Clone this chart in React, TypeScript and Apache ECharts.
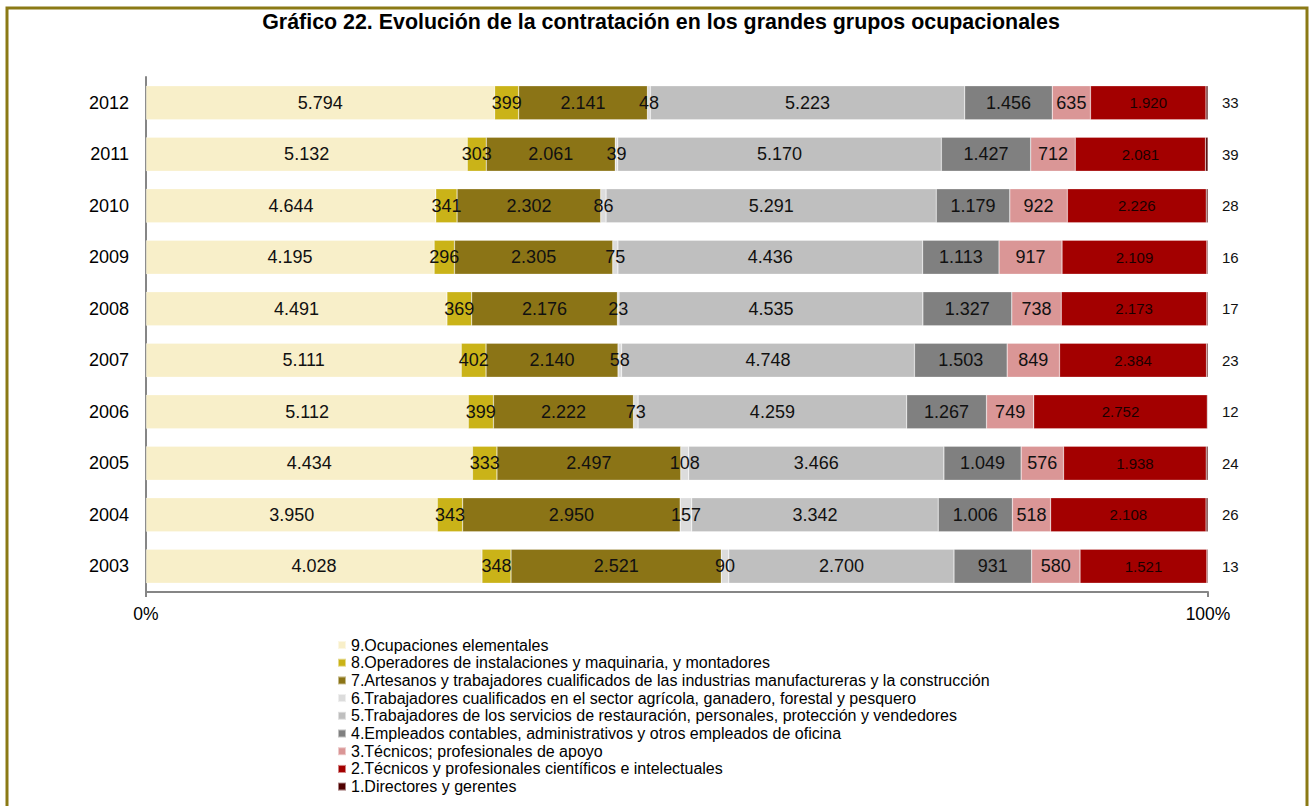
import React, { useEffect, useRef } from "react";
import * as echarts from "echarts";

const years = ["2012", "2011", "2010", "2009", "2008", "2007", "2006", "2005", "2004", "2003"];

const groupNames = [
  "9.Ocupaciones elementales",
  "8.Operadores de instalaciones y maquinaria, y montadores",
  "7.Artesanos y trabajadores cualificados de las industrias manufactureras y la construcción",
  "6.Trabajadores cualificados en el sector agrícola, ganadero, forestal y pesquero",
  "5.Trabajadores de los servicios de restauración, personales, protección y vendedores",
  "4.Empleados contables, administrativos y otros empleados de oficina",
  "3.Técnicos; profesionales de apoyo",
  "2.Técnicos y profesionales científicos e intelectuales",
  "1.Directores y gerentes",
];

const groupColors = ["#F8EFC9", "#CAB318", "#8B7416", "#DCDCDC", "#BFBFBF", "#808080", "#DA9696", "#A30000", "#4F0000"];

// values per group, in the order of years (2012 ... 2003)
const g9 = [5794, 5132, 4644, 4195, 4491, 5111, 5112, 4434, 3950, 4028];
const g8 = [399, 303, 341, 296, 369, 402, 399, 333, 343, 348];
const g7 = [2141, 2061, 2302, 2305, 2176, 2140, 2222, 2497, 2950, 2521];
const g6 = [48, 39, 86, 75, 23, 58, 73, 108, 157, 90];
const g5 = [5223, 5170, 5291, 4436, 4535, 4748, 4259, 3466, 3342, 2700];
const g4 = [1456, 1427, 1179, 1113, 1327, 1503, 1267, 1049, 1006, 931];
const g3 = [635, 712, 922, 917, 738, 849, 749, 576, 518, 580];
const g2 = [1920, 2081, 2226, 2109, 2173, 2384, 2752, 1938, 2108, 1521];
const g1 = [33, 39, 28, 16, 17, 23, 12, 24, 26, 13];

const xTicks = [0, 100];

const groups = [g9, g8, g7, g6, g5, g4, g3, g2, g1];

const FONT = "'Liberation Sans', Arial, sans-serif";

function fmt(n: number): string {
  return String(n).replace(/\B(?=(\d{3})+(?!\d))/g, ".");
}

export default function App() {
  const ref = useRef<HTMLDivElement>(null);
  useEffect(() => {
    if (!ref.current) return;
    const chart = echarts.init(ref.current, null, { renderer: "svg" });
    const totals = years.map((_, i) => groups.reduce((s, g) => s + g[i], 0));
    const series = groups.map((g, gi) => {
      const isLast = gi === groups.length - 1;
      const isRed = gi === 7;
      return {
        name: groupNames[gi],
        type: "bar",
        stack: "total",
        barCategoryGap: "34%",
        itemStyle: { color: groupColors[gi], borderColor: "rgba(255,255,255,0.5)", borderWidth: 0.5 },
        data: g.map((v, i) => ({ value: (v / totals[i]) * 100, raw: v })),
        label: {
          show: true,
          position: isLast ? "right" : "inside",
          distance: isLast ? 14 : 5,
          fontFamily: FONT,
          fontSize: isLast ? 15 : isRed ? 15 : 18,
          color: isRed ? "#1a0000" : "#111",
          formatter: (p: any) => fmt(p.data.raw),
        },
      };
    });
    chart.setOption({
      animation: false,
      textStyle: { fontFamily: FONT },
      title: {
        text: "Gráfico 22. Evolución de la contratación en los grandes grupos ocupacionales",
        left: 656,
        textAlign: "center",
        top: 6,
        textStyle: { fontSize: 21.4, fontWeight: "bold", color: "#000", fontFamily: FONT },
      },
      grid: { left: 146, right: 101, top: 77, bottom: 214 },
      xAxis: {
        type: "value",
        min: xTicks[0],
        max: xTicks[1],
        interval: 100,
        axisLine: { show: true, lineStyle: { color: "#868686", width: 2 } },
        axisTick: { show: true, length: 5, lineStyle: { color: "#868686", width: 2 } },
        splitLine: { show: false },
        axisLabel: {
          formatter: "{value}%",
          fontSize: 17.5,
          color: "#000",
          margin: 13,
          fontFamily: FONT,
        },
      },
      yAxis: {
        type: "category",
        data: years,
        inverse: true,
        axisLine: { show: true, lineStyle: { color: "#868686", width: 2 } },
        axisTick: { show: false },
        axisLabel: { fontSize: 18, color: "#000", margin: 17, fontFamily: FONT },
      },
      legend: {
        orient: "vertical",
        left: 337,
        top: 637,
        padding: 0,
        itemWidth: 8,
        itemHeight: 8,
        itemGap: 1.7,
        itemTextGap: 2,
        icon: "rect",
        data: groupNames,
        textStyle: { fontSize: 16, color: "#000", lineHeight: 16, fontFamily: FONT },
      },
      graphic: [
        {
          type: "rect",
          shape: { x: 7, y: 8, width: 1300, height: 820 },
          style: { fill: "none", stroke: "#8B7A16", lineWidth: 3 },
          silent: true,
        },
      ],
      series,
    });
    return () => chart.dispose();
  }, []);
  return <div ref={ref} style={{ position: "absolute", left: 0, top: 0, width: 1309, height: 806, background: "#fff" }} />;
}
